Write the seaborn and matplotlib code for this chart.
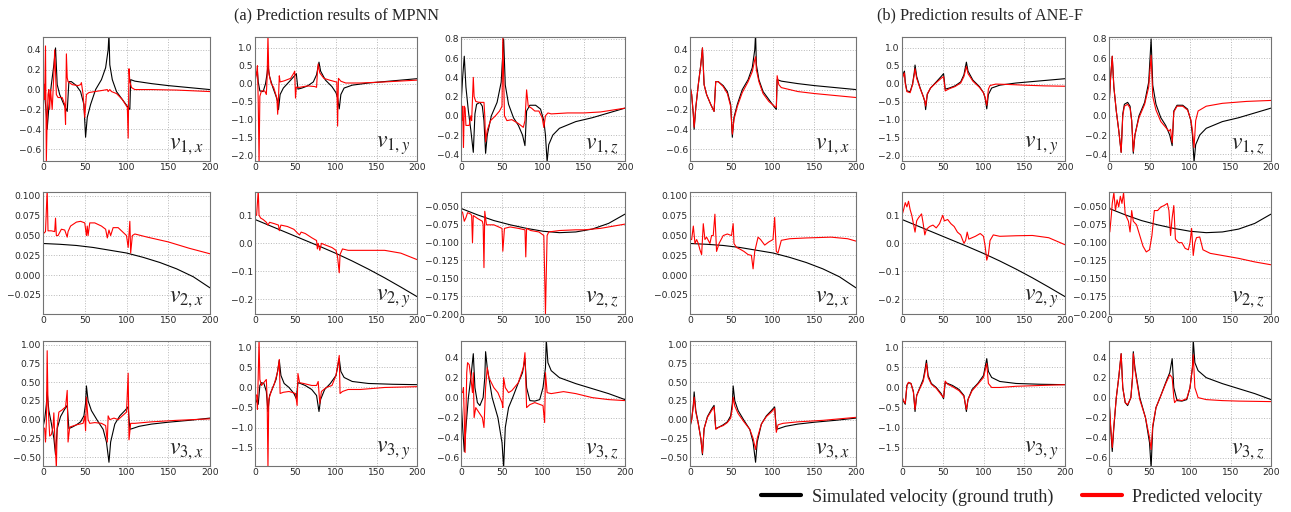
import matplotlib
matplotlib.use("Agg")
import matplotlib.pyplot as plt
from matplotlib.lines import Line2D
from matplotlib.ticker import MultipleLocator
import seaborn as sns

# ground truth (shared by both models), as (step, velocity) pairs
TRUE_V1X = [(0, 0.03), (2, -0.05), (4, -0.25), (5, -0.40), (7, -0.18), (10, 0.05), (13, 0.25), (15, 0.42),
            (17, 0.05), (20, -0.05), (25, -0.15), (29, -0.22), (31, 0.08), (34, 0.08), (40, 0.04), (45, -0.02),
            (49, -0.15), (51, -0.48), (53, -0.28), (57, -0.15), (63, 0.0), (70, 0.1), (75, 0.22), (78, 0.4),
            (79, 0.56), (80, 0.25), (83, 0.1), (88, -0.02), (95, -0.1), (102, -0.18), (104, -0.2), (105, 0.10),
            (110, 0.085), (130, 0.06), (150, 0.04), (175, 0.02), (200, 0.0)]
TRUE_V1Y = [(0, 0.15), (2, 0.3), (3, 0.35), (4, 0.05), (6, -0.2), (10, -0.22), (13, 0.0), (15, 0.3), (16, 0.52),
            (18, 0.2), (22, -0.1), (26, -0.35), (28, -0.5), (29, -0.72), (31, -0.3), (35, -0.12), (42, 0.05),
            (48, 0.2), (51, 0.28), (53, -0.15), (58, -0.12), (65, -0.06), (72, 0.05), (76, 0.25), (79, 0.6),
            (81, 0.35), (87, 0.1), (95, -0.08), (100, -0.25), (102, -0.4), (104, -0.7), (106, -0.3), (110, -0.12),
            (120, -0.04), (140, 0.02), (170, 0.08), (200, 0.14)]
TRUE_V1Z = [(0, 0.1), (2, 0.4), (4, 0.62), (6, 0.3), (9, 0.05), (12, -0.15), (15, -0.38), (17, 0.02), (19, 0.12),
            (23, 0.14), (26, 0.1), (28, -0.05), (30, -0.39), (32, -0.2), (37, 0.0), (44, 0.14), (49, 0.35),
            (52, 0.8), (54, 0.32), (58, 0.12), (64, -0.02), (70, -0.1), (75, -0.2), (78, -0.31), (80, 0.05),
            (84, 0.11), (91, 0.11), (97, 0.07), (101, -0.05), (103, -0.2), (105, -0.48), (107, -0.3), (112, -0.2),
            (120, -0.13), (140, -0.06), (160, -0.02), (180, 0.03), (200, 0.08)]
TRUE_V2X = [(0, 0.040), (20, 0.039), (40, 0.0375), (60, 0.035), (80, 0.0315), (100, 0.028), (120, 0.0225),
            (140, 0.016), (160, 0.008), (180, -0.002), (200, -0.016)]
TRUE_V2Y = [(0, 0.085), (20, 0.061), (40, 0.037), (60, 0.013), (80, -0.011), (100, -0.036), (120, -0.063),
            (140, -0.092), (160, -0.123), (180, -0.156), (200, -0.19)]
TRUE_V2Z = [(0, -0.052), (20, -0.061), (40, -0.069), (60, -0.075), (80, -0.080), (100, -0.084), (120, -0.086),
            (140, -0.085), (160, -0.081), (180, -0.073), (200, -0.06)]
TRUE_V3X = [(0, -0.1), (2, 0.0), (4, 0.2), (5, 0.37), (7, 0.12), (10, -0.05), (13, -0.25), (15, -0.47), (17, -0.12),
            (21, 0.04), (26, 0.14), (29, 0.19), (31, -0.12), (35, -0.1), (40, -0.07), (45, -0.03), (49, 0.05),
            (51, 0.22), (52, 0.45), (54, 0.25), (58, 0.12), (65, -0.01), (72, -0.13), (76, -0.3), (79, -0.57),
            (81, -0.3), (86, -0.06), (92, 0.05), (98, 0.12), (102, 0.17), (104, -0.13), (107, -0.12), (115, -0.09),
            (130, -0.06), (150, -0.035), (175, -0.01), (200, 0.02)]
TRUE_V3Y = [(0, -0.25), (2, -0.35), (4, -0.42), (6, 0.05), (8, 0.12), (11, 0.1), (14, -0.1), (16, -0.6), (18, -0.2),
            (22, 0.0), (26, 0.2), (28, 0.42), (30, 0.68), (32, 0.3), (36, 0.1), (42, 0.0), (48, -0.15), (51, -0.28),
            (53, 0.12), (56, 0.1), (62, 0.05), (70, -0.05), (76, -0.2), (79, -0.6), (81, -0.3), (86, -0.05),
            (93, 0.1), (100, 0.3), (104, 0.72), (106, 0.4), (110, 0.25), (120, 0.15), (140, 0.1), (170, 0.08),
            (200, 0.07)]
TRUE_V3Z = [(0, 0.0), (2, -0.3), (4, -0.54), (6, -0.3), (9, 0.0), (12, 0.2), (15, 0.44), (17, 0.1), (20, -0.05),
            (23, -0.08), (27, 0.0), (29, 0.2), (30, 0.46), (32, 0.3), (38, 0.0), (45, -0.2), (50, -0.45), (52, -0.7),
            (54, -0.3), (58, -0.1), (63, 0.0), (70, 0.15), (75, 0.25), (78, 0.39), (80, 0.1), (84, -0.03),
            (90, -0.035), (96, -0.02), (100, 0.1), (103, 0.3), (104, 0.58), (106, 0.35), (110, 0.27), (120, 0.2),
            (140, 0.14), (160, 0.09), (180, 0.04), (200, -0.02)]

# MPNN predictions
MPNN_V1X = [(0, 0.08), (1, 0.05), (2, -0.1), (3, 0.44), (4, -0.72), (5, -0.3), (6, -0.05), (7, 0.0), (8, -0.2),
            (9, 0.0), (11, -0.2), (13, 0.15), (14, 0.40), (16, -0.05), (18, -0.08), (23, -0.08), (26, -0.15),
            (27, -0.35), (28, 0.36), (29, 0.12), (30, 0.08), (35, 0.05), (42, 0.04), (45, 0.05), (46, 0.07),
            (48, -0.05), (50, -0.28), (52, -0.05), (55, -0.03), (62, -0.02), (70, -0.01), (77, 0.0), (78, -0.02),
            (80, 0.0), (82, -0.02), (88, -0.04), (95, -0.1), (101, -0.18), (102, -0.49), (103, 0.21), (104, 0.08),
            (106, 0.02), (110, 0.0), (130, 0.0), (160, -0.005), (200, -0.02)]
MPNN_V1Y = [(0, 0.05), (2, 0.3), (3, 0.5), (4, -0.5), (5, -2.2), (6, -0.35), (8, -0.2), (12, -0.2), (14, -0.3),
            (15, 0.2), (16, 1.35), (17, 0.3), (20, 0.0), (23, -0.1), (27, -0.4), (28, -0.85), (29, -0.4), (30, 0.22),
            (31, 0.05), (36, 0.08), (44, 0.15), (48, 0.3), (49, 0.35), (50, -0.4), (51, -0.1), (55, -0.1),
            (65, -0.06), (74, -0.08), (76, -0.1), (77, 0.3), (78, 0.55), (80, 0.3), (85, 0.15), (92, 0.1),
            (100, 0.05), (101, 0.05), (102, -1.18), (103, 0.15), (106, 0.07), (112, 0.02), (130, 0.02), (160, 0.05),
            (200, 0.1)]
MPNN_V1Z = [(0, 0.05), (1, -0.05), (2, 0.1), (3, -0.33), (4, 0.1), (5, 0.08), (6, -0.1), (10, -0.1), (12, 0.0),
            (13, -0.05), (15, 0.4), (16, 0.2), (18, 0.15), (22, 0.14), (28, 0.14), (29, 0.0), (30, -0.27),
            (32, -0.15), (36, -0.05), (42, 0.0), (47, 0.05), (50, 0.1), (51, 0.82), (53, 0.0), (56, -0.05),
            (62, -0.04), (70, -0.08), (76, -0.12), (78, -0.05), (80, 0.27), (82, 0.1), (86, 0.08), (90, 0.05),
            (95, 0.05), (99, -0.02), (101, -0.12), (103, 0.0), (106, 0.03), (110, 0.02), (130, 0.03), (150, 0.03),
            (170, 0.04), (200, 0.08)]
MPNN_V2X = [(0, 0.052), (3, 0.055), (5, 0.108), (6, 0.056), (10, 0.056), (14, 0.055), (15, 0.072), (16, 0.05),
            (18, 0.05), (22, 0.058), (26, 0.057), (29, 0.048), (30, 0.055), (33, 0.062), (40, 0.067), (45, 0.068),
            (50, 0.066), (52, 0.05), (53, 0.062), (54, 0.05), (56, 0.066), (62, 0.066), (70, 0.062), (75, 0.058),
            (77, 0.047), (79, 0.057), (81, 0.05), (84, 0.06), (90, 0.06), (95, 0.055), (100, 0.05), (102, 0.035),
            (104, 0.068), (105, 0.028), (107, 0.05), (110, 0.052), (125, 0.048), (150, 0.042), (175, 0.034),
            (200, 0.027)]
MPNN_V2Y = [(0, 0.1), (2, 0.1), (4, 0.19), (5, 0.1), (7, 0.09), (10, 0.085), (14, 0.075), (16, 0.065), (18, 0.075),
            (24, 0.07), (29, 0.065), (30, 0.045), (32, 0.065), (40, 0.06), (48, 0.05), (53, 0.035), (55, 0.03),
            (57, 0.04), (62, 0.035), (70, 0.02), (76, 0.01), (77, -0.02), (78, 0.0), (80, -0.025), (82, 0.0),
            (86, -0.005), (95, -0.015), (100, -0.025), (102, -0.05), (104, -0.105), (105, -0.04), (108, -0.02),
            (115, -0.025), (130, -0.025), (160, -0.025), (180, -0.035), (200, -0.058)]
MPNN_V2Z = [(0, -0.055), (2, -0.058), (4, -0.07), (6, -0.065), (8, -0.058), (12, -0.06), (13, -0.062), (14, -0.1),
            (15, -0.062), (20, -0.066), (26, -0.07), (27, -0.075), (28, -0.135), (29, -0.056), (31, -0.075),
            (40, -0.075), (50, -0.08), (51, -0.112), (53, -0.08), (60, -0.078), (70, -0.08), (78, -0.082),
            (79, -0.12), (80, -0.08), (85, -0.083), (95, -0.085), (101, -0.09), (103, -0.2), (105, -0.09),
            (107, -0.085), (120, -0.083), (140, -0.082), (150, -0.082), (170, -0.08), (200, -0.074)]
MPNN_V3X = [(0, -0.1), (2, -0.12), (3, -0.3), (4, -0.05), (5, 0.92), (6, 0.2), (8, -0.22), (10, -0.2), (12, -0.1),
            (13, 0.09), (14, -0.2), (16, -0.65), (17, -0.1), (19, 0.1), (23, 0.13), (27, 0.17), (29, 0.39),
            (30, -0.3), (32, -0.1), (40, -0.07), (48, -0.05), (50, 0.05), (51, -0.15), (52, 0.3), (54, 0.0),
            (56, -0.05), (62, -0.04), (70, -0.05), (75, -0.08), (77, -0.3), (78, 0.05), (80, 0.0), (85, 0.02),
            (90, 0.0), (95, 0.05), (100, 0.1), (102, 0.62), (103, -0.27), (105, -0.05), (110, -0.05), (130, -0.03),
            (160, -0.01), (200, 0.01)]
MPNN_V3Y = [(0, -0.15), (2, -0.2), (3, -0.55), (4, 0.3), (5, 1.2), (6, 0.2), (8, 0.05), (10, 0.1), (12, 0.15),
            (14, 0.2), (15, -0.3), (16, -2.0), (17, -0.3), (20, -0.1), (24, 0.1), (28, 0.4), (30, 0.7), (31, -0.15),
            (35, -0.12), (42, -0.1), (50, -0.15), (52, -0.45), (53, 0.35), (55, 0.12), (60, 0.1), (70, 0.05),
            (76, 0.05), (78, 0.15), (80, -0.4), (82, -0.1), (88, 0.0), (95, 0.05), (100, 0.3), (104, 0.8),
            (105, -0.15), (108, -0.1), (115, -0.05), (130, -0.05), (160, 0.0), (200, 0.02)]
MPNN_V3Z = [(0, 0.06), (2, 0.05), (3, 0.1), (4, -0.2), (5, -0.55), (6, -0.2), (7, 0.25), (8, 0.35), (10, 0.33),
            (12, 0.2), (14, 0.05), (15, 0.25), (16, -0.2), (18, -0.1), (22, -0.15), (26, -0.2), (28, -0.3),
            (30, 0.1), (32, 0.3), (34, 0.2), (40, 0.1), (45, 0.05), (50, -0.05), (51, -0.1), (52, 0.2), (54, 0.1),
            (58, 0.05), (62, 0.07), (70, 0.15), (76, 0.3), (78, 0.45), (80, -0.1), (84, -0.07), (90, -0.05),
            (100, -0.08), (102, -0.25), (103, 0.25), (105, 0.05), (110, 0.04), (125, 0.06), (140, 0.04), (160, 0.0),
            (180, -0.02), (200, -0.03)]

# ANE-F predictions
ANEF_V1X = [(0, 0.04), (2, -0.05), (4, -0.25), (5, -0.38), (7, -0.18), (10, 0.05), (13, 0.25), (15, 0.42),
            (17, 0.05), (20, -0.05), (25, -0.15), (29, -0.22), (31, 0.08), (34, 0.08), (40, 0.03), (45, -0.04),
            (49, -0.17), (51, -0.45), (53, -0.3), (57, -0.17), (63, -0.03), (70, 0.08), (75, 0.18), (78, 0.3),
            (79, 0.33), (80, 0.2), (83, 0.08), (88, -0.04), (95, -0.12), (102, -0.17), (104, -0.18), (105, 0.14),
            (107, 0.05), (110, 0.02), (130, -0.02), (150, -0.04), (175, -0.06), (200, -0.08)]
ANEF_V1Y = [(0, 0.12), (2, 0.25), (3, 0.3), (4, 0.0), (6, -0.22), (10, -0.25), (13, -0.02), (15, 0.25), (16, 0.42),
            (18, 0.15), (22, -0.12), (26, -0.35), (28, -0.48), (29, -0.62), (31, -0.28), (35, -0.12), (42, 0.03),
            (48, 0.15), (51, 0.2), (53, -0.2), (58, -0.14), (65, -0.08), (72, 0.02), (76, 0.2), (79, 0.48),
            (81, 0.28), (87, 0.07), (95, -0.1), (100, -0.25), (102, -0.38), (104, -0.6), (106, -0.15), (108, -0.05),
            (115, -0.01), (130, -0.02), (150, -0.04), (175, -0.06), (200, -0.07)]
ANEF_V1Z = [(0, 0.08), (2, 0.4), (4, 0.62), (6, 0.3), (9, 0.05), (12, -0.15), (15, -0.38), (17, 0.0), (19, 0.1),
            (23, 0.12), (26, 0.08), (28, -0.05), (30, -0.37), (32, -0.2), (37, -0.02), (44, 0.12), (49, 0.3),
            (52, 0.63), (54, 0.2), (58, 0.06), (64, -0.06), (70, -0.12), (74, -0.16), (76, -0.14), (78, -0.28),
            (80, 0.04), (84, 0.1), (91, 0.1), (97, 0.06), (101, -0.04), (103, -0.15), (105, -0.33), (107, -0.05),
            (110, 0.05), (120, 0.1), (140, 0.13), (170, 0.15), (200, 0.16)]
ANEF_V2X = [(0, 0.045), (2, 0.045), (4, 0.062), (6, 0.04), (8, 0.045), (10, 0.04), (12, 0.032), (14, 0.026),
            (16, 0.065), (18, 0.045), (20, 0.048), (24, 0.04), (26, 0.05), (28, 0.05), (30, 0.077), (32, 0.03),
            (35, 0.04), (40, 0.05), (45, 0.052), (50, 0.05), (52, 0.065), (53, 0.04), (56, 0.035), (60, 0.033),
            (65, 0.03), (70, 0.026), (74, 0.025), (76, 0.008), (78, 0.03), (82, 0.048), (85, 0.045), (90, 0.038),
            (95, 0.042), (100, 0.045), (102, 0.073), (104, 0.03), (106, 0.028), (110, 0.044), (120, 0.046),
            (140, 0.047), (170, 0.048), (190, 0.046), (200, 0.043)]
ANEF_V2Y = [(0, 0.1), (2, 0.12), (4, 0.145), (6, 0.13), (8, 0.15), (10, 0.12), (12, 0.1), (14, 0.07), (16, 0.04),
            (18, 0.08), (20, 0.09), (24, 0.105), (26, 0.07), (28, 0.03), (30, 0.05), (34, 0.06), (38, 0.065),
            (42, 0.055), (46, 0.07), (50, 0.1), (52, 0.08), (56, 0.085), (60, 0.07), (64, 0.06), (68, 0.04),
            (72, 0.03), (76, 0.0), (78, 0.01), (80, 0.04), (82, 0.015), (86, 0.02), (90, 0.025), (96, 0.035),
            (100, 0.025), (102, -0.01), (104, -0.06), (106, -0.04), (108, 0.01), (112, 0.03), (120, 0.025),
            (140, 0.027), (160, 0.028), (180, 0.02), (200, -0.005)]
ANEF_V2Z = [(0, -0.068), (1, -0.085), (3, -0.06), (4, -0.045), (6, -0.03), (8, -0.055), (10, -0.04), (12, -0.05),
            (14, -0.035), (16, -0.045), (18, -0.03), (20, -0.06), (24, -0.07), (26, -0.085), (28, -0.055),
            (30, -0.07), (34, -0.075), (38, -0.09), (42, -0.105), (46, -0.113), (50, -0.11), (53, -0.09),
            (56, -0.055), (60, -0.055), (64, -0.05), (68, -0.048), (72, -0.045), (74, -0.055), (76, -0.09),
            (78, -0.065), (80, -0.048), (82, -0.095), (86, -0.1), (90, -0.1), (94, -0.108), (98, -0.11),
            (100, -0.1), (102, -0.08), (104, -0.118), (106, -0.1), (108, -0.093), (112, -0.092), (116, -0.11),
            (125, -0.115), (140, -0.118), (160, -0.122), (180, -0.127), (200, -0.131)]
ANEF_V3X = [(0, -0.08), (2, 0.0), (4, 0.18), (5, 0.3), (7, 0.1), (10, -0.06), (13, -0.25), (15, -0.45), (17, -0.12),
            (21, 0.03), (26, 0.12), (29, 0.17), (31, -0.13), (35, -0.1), (40, -0.08), (45, -0.04), (49, 0.02),
            (51, 0.15), (52, 0.3), (54, 0.18), (58, 0.08), (65, -0.03), (72, -0.13), (76, -0.25), (79, -0.4),
            (81, -0.25), (86, -0.06), (92, 0.04), (98, 0.1), (102, 0.15), (104, -0.17), (106, -0.07), (112, -0.05),
            (130, -0.03), (160, -0.01), (200, 0.03)]
ANEF_V3Y = [(0, -0.22), (2, -0.33), (4, -0.4), (6, 0.05), (8, 0.13), (11, 0.1), (14, -0.12), (16, -0.55), (18, -0.2),
            (22, -0.02), (26, 0.15), (28, 0.35), (30, 0.6), (32, 0.25), (36, 0.08), (42, -0.02), (48, -0.18),
            (51, -0.25), (53, 0.16), (56, 0.08), (62, 0.02), (70, -0.08), (76, -0.22), (79, -0.55), (81, -0.3),
            (86, -0.08), (93, 0.08), (100, 0.25), (104, 0.6), (106, 0.1), (110, 0.0), (120, 0.0), (140, 0.03),
            (170, 0.05), (200, 0.07)]
ANEF_V3Z = [(0, 0.0), (2, -0.28), (4, -0.5), (6, -0.28), (9, 0.0), (12, 0.2), (15, 0.44), (17, 0.1), (20, -0.05),
            (23, -0.07), (27, 0.0), (29, 0.2), (30, 0.44), (32, 0.28), (38, -0.02), (45, -0.2), (50, -0.4),
            (52, -0.52), (54, -0.28), (58, -0.1), (63, 0.0), (70, 0.14), (75, 0.23), (78, 0.2), (80, 0.0),
            (81, -0.05), (84, -0.02), (90, -0.03), (96, -0.01), (100, 0.1), (103, 0.3), (104, 0.43), (106, 0.1),
            (110, 0.0), (120, -0.02), (140, -0.03), (160, -0.035), (200, -0.04)]

PANELS = [["v1x", "v1y", "v1z"], ["v2x", "v2y", "v2z"], ["v3x", "v3y", "v3z"]]
PANEL_LABELS = {"v1x": r"$v_{1,x}$", "v1y": r"$v_{1,y}$", "v1z": r"$v_{1,z}$",
                "v2x": r"$v_{2,x}$", "v2y": r"$v_{2,y}$", "v2z": r"$v_{2,z}$",
                "v3x": r"$v_{3,x}$", "v3y": r"$v_{3,y}$", "v3z": r"$v_{3,z}$"}
TRUTH = {"v1x": TRUE_V1X, "v1y": TRUE_V1Y, "v1z": TRUE_V1Z, "v2x": TRUE_V2X, "v2y": TRUE_V2Y,
         "v2z": TRUE_V2Z, "v3x": TRUE_V3X, "v3y": TRUE_V3Y, "v3z": TRUE_V3Z}
PRED = {
    "MPNN": {"v1x": MPNN_V1X, "v1y": MPNN_V1Y, "v1z": MPNN_V1Z, "v2x": MPNN_V2X, "v2y": MPNN_V2Y,
             "v2z": MPNN_V2Z, "v3x": MPNN_V3X, "v3y": MPNN_V3Y, "v3z": MPNN_V3Z},
    "ANE-F": {"v1x": ANEF_V1X, "v1y": ANEF_V1Y, "v1z": ANEF_V1Z, "v2x": ANEF_V2X, "v2y": ANEF_V2Y,
              "v2z": ANEF_V2Z, "v3x": ANEF_V3X, "v3y": ANEF_V3Y, "v3z": ANEF_V3Z},
}
TITLES = {"MPNN": "(a) Prediction results of MPNN", "ANE-F": "(b) Prediction results of ANE-F"}

# y limits and tick step per panel
YLIM = {"v1x": (-0.72, 0.53), "v1y": (-2.15, 1.3), "v1z": (-0.47, 0.82),
        "v2x": (-0.049, 0.105), "v2y": (-0.252, 0.183), "v2z": (-0.2, -0.029),
        "v3x": (-0.62, 1.05), "v3y": (-1.96, 1.16), "v3z": (-0.685, 0.567)}
YSTEP = {"v1x": 0.2, "v1y": 0.5, "v1z": 0.2, "v2x": 0.025, "v2y": 0.1, "v2z": 0.025,
         "v3x": 0.25, "v3y": 0.5, "v3z": 0.2}

sns.set_style("whitegrid", {"grid.linestyle": ":", "grid.color": "0.72", "axes.edgecolor": "0.45"})
plt.rcParams["mathtext.fontset"] = "stix"

W, H = 1291, 512
fig = plt.figure(figsize=(W / 100, H / 100), dpi=100)

# axes boxes in pixels (left, right) / (top, bottom)
COLS = {"MPNN": [(43, 210), (255, 417), (461, 625)],
        "ANE-F": [(690, 856), (902, 1065), (1109, 1271)]}
ROWS = [(37, 161), (192, 314), (341, 466)]
TITLE_X = {"MPNN": 336, "ANE-F": 980}

for model in ["MPNN", "ANE-F"]:
    for r, row in enumerate(PANELS):
        for c, key in enumerate(row):
            (l, rr), (t, b) = COLS[model][c], ROWS[r]
            ax = fig.add_axes([l / W, 1 - b / H, (rr - l) / W, (b - t) / H])
            tx, ty = zip(*TRUTH[key])
            px, py = zip(*PRED[model][key])
            sns.lineplot(x=list(tx), y=list(ty), ax=ax, color="black", lw=0.8, estimator=None)
            sns.lineplot(x=list(px), y=list(py), ax=ax, color="red", lw=0.8, estimator=None)
            ax.set_xlim(0, 200)
            ax.set_ylim(*YLIM[key])
            ax.xaxis.set_major_locator(MultipleLocator(50))
            ax.yaxis.set_major_locator(MultipleLocator(YSTEP[key]))
            ax.tick_params(labelsize=6.6, pad=1.5, length=0)
            ax.grid(True, lw=0.7)
            for s in ax.spines.values():
                s.set_linewidth(0.8)
            ax.text(0.96, 0.03, PANEL_LABELS[key], transform=ax.transAxes, ha="right", va="bottom",
                    fontsize=17)
    fig.text(TITLE_X[model] / W, 1 - 15 / H, TITLES[model], ha="center", va="center",
             family="Liberation Serif", fontsize=11.7)

handles = [Line2D([], [], color="black", lw=3), Line2D([], [], color="red", lw=3)]
fig.legend(handles, ["Simulated velocity (ground truth)", "Predicted velocity"], loc="center",
           bbox_to_anchor=(1012 / W, 1 - 497 / H), ncol=2, frameon=False,
           prop={"family": "Liberation Serif", "size": 13},
           handlelength=2.2, columnspacing=1.6, handletextpad=0.6)

fig.savefig("out.png", dpi=100)
